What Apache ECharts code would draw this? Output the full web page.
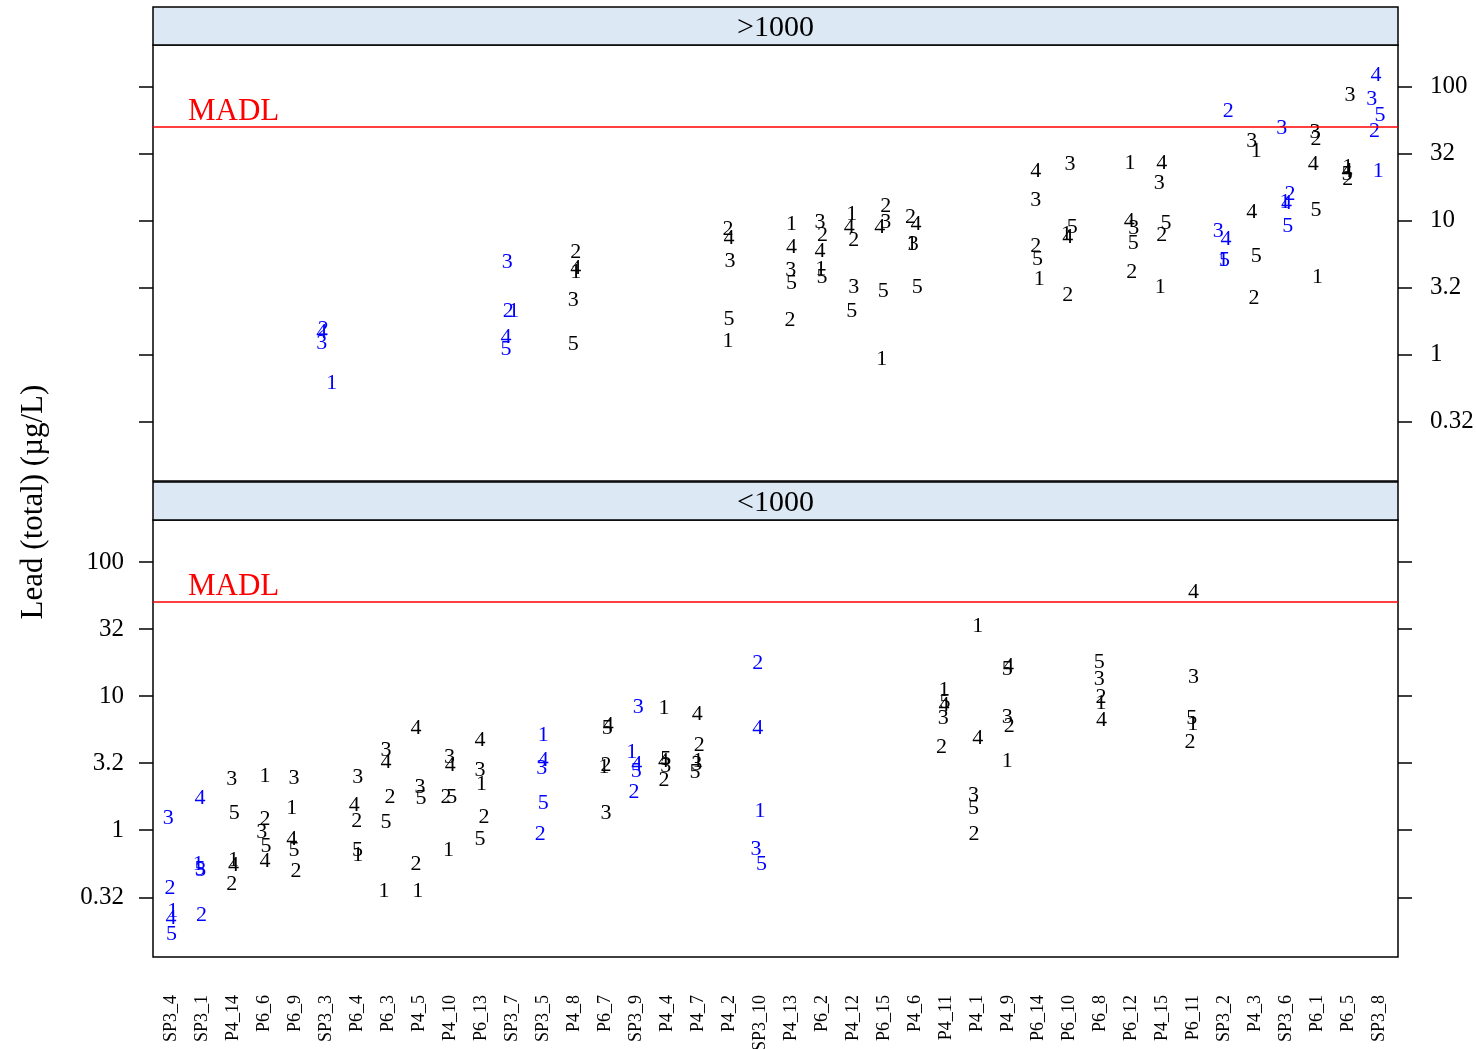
<!DOCTYPE html>
<html>
<head>
<meta charset="utf-8">
<script src="https://cdn.jsdelivr.net/npm/echarts@6/dist/echarts.min.js"></script>
<style>html,body{margin:0;padding:0;background:#fff}#c{width:1476px;height:1049px}</style>
</head>
<body>
<div id="c"></div>
<script>
// ---- data ----
const categories = ["SP3_4","SP3_1","P4_14","P6_6","P6_9","SP3_3","P6_4","P6_3","P4_5","P4_10",
  "P6_13","SP3_7","SP3_5","P4_8","P6_7","SP3_9","P4_4","P4_7","P4_2","SP3_10",
  "P4_13","P6_2","P4_12","P6_15","P4_6","P4_11","P4_1","P4_9","P6_14","P6_10",
  "P6_8","P6_12","P4_15","P6_11","SP3_2","P4_3","SP3_6","P6_1","P6_5","SP3_8"];
const panelOf = ["<1000","<1000","<1000","<1000","<1000",">1000","<1000","<1000","<1000","<1000",
  "<1000",">1000","<1000",">1000","<1000","<1000","<1000","<1000",">1000","<1000",
  ">1000",">1000",">1000",">1000",">1000","<1000","<1000","<1000",">1000",">1000",
  "<1000",">1000",">1000","<1000",">1000",">1000",">1000",">1000",">1000",">1000"];
const panels = [">1000", "<1000"];
// lead (total), µg/L, sample 1..5 for each category
const sample1 = [0.248,0.562,0.595,2.54,1.45,0.61,0.649,0.349,0.349,0.707,
  2.19,2.12,5.10,4.10,2.96,3.83,8.17,3.26,1.26,1.38,
  9.43,4.34,11.2,0.92,6.68,11.0,33.4,3.26,3.66,7.94,
  8.79,27.0,3.16,6.13,5.07,33.0,13.7,3.80,25.0,23.6];
const sample2 = [0.371,0.234,0.399,1.20,0.493,1.55,1.16,1.75,0.562,1.75,
  1.26,2.09,0.942,5.78,3.05,1.93,2.35,4.30,8.65,17.5,
  1.80,7.84,7.16,12.9,10.6,4.18,0.942,6.0,6.49,2.79,
  9.86,4.10,7.84,4.50,65.7,2.63,15.8,40.8,20.5,46.3];
const sample3 = [1.23,0.501,2.39,0.97,2.45,1.22,2.49,3.94,2.10,3.52,
  2.79,4.87,2.88,2.56,1.35,8.30,3.01,3.13,5.01,0.727,
  4.27,9.70,3.20,9.70,6.68,6.87,1.84,7.0,14.3,26.5,
  13.3,8.81,19.0,13.9,8.40,39.0,49.0,45.7,86.1,81.3];
const sample4 = [0.219,1.74,0.553,0.585,0.864,1.47,1.53,3.19,5.79,3.05,
  4.73,1.35,3.32,4.42,6.05,3.08,3.26,7.28,7.41,5.79,
  6.30,5.95,8.89,8.89,9.43,8.53,4.88,16.8,23.4,7.57,
  6.60,9.86,27.0,59.2,7.28,11.5,13.5,26.5,23.6,121.5];
const sample5 = [0.169,0.516,1.33,0.762,0.707,null,0.707,1.15,1.72,1.75,
  0.850,1.10,1.58,1.19,5.79,2.75,3.38,2.72,1.83,0.562,
  3.39,3.76,2.12,2.99,3.16,8.94,1.47,16.0,5.16,8.89,
  18.0,6.75,9.53,6.79,5.07,5.46,9.05,11.9,22.3,61.7];
// horizontal jitter of each label (category units)
const jitter1 = [0.04,-0.14,0,0.02,-0.12,0.17,0.01,-0.14,-0.05,-0.06,0.01,0.05,0,0.05,-0.04,-0.14,-0.10,0,-0.03,0,
  0.02,-0.04,-0.04,-0.07,-0.10,-0.06,0.03,-0.02,0.02,-0.10,0.01,-0.05,-0.08,-0.03,-0.04,0.02,-0.05,0,-0.02,-0.04];
const jitter2 = [-0.05,-0.03,-0.06,0.02,0.02,-0.10,-0.02,0.05,-0.11,-0.14,0.09,-0.13,-0.10,0.05,0.03,-0.07,-0.10,0.04,-0.03,-0.07,
  -0.03,0.02,0.03,0.06,-0.14,-0.14,-0.09,0.05,-0.10,-0.06,0.01,0,-0.03,-0.12,0.12,-0.05,0.11,-0.05,-0.02,-0.16];
const jitter3 = [-0.11,-0.06,-0.06,-0.09,-0.05,-0.15,0.01,-0.08,0.02,-0.03,-0.04,-0.16,-0.05,-0.03,0.03,0.07,-0.04,-0.04,0.03,-0.13,
  -0.01,-0.06,0.03,0.06,-0.05,-0.08,-0.11,-0.02,-0.10,0.01,-0.05,0.07,-0.11,0,-0.2,-0.12,-0.15,-0.08,0.05,-0.25];
const jitter4 = [-0.02,-0.08,0,0.02,-0.12,-0.15,-0.10,-0.08,-0.11,0,-0.04,-0.2,0,0.05,0.10,0.02,-0.12,-0.03,0,-0.07,
  0.02,-0.06,-0.12,-0.13,0.04,-0.06,0.03,0.02,-0.10,-0.06,0.03,-0.08,-0.03,0,0.05,-0.12,0,-0.14,-0.05,-0.11];
const jitter5 = [0,-0.08,0.02,0.05,-0.05,0,0,-0.08,0.05,0.05,-0.04,-0.2,0,-0.03,0.07,0,-0.04,-0.10,0,0.05,
  0.02,0,-0.04,-0.02,0.08,-0.03,-0.11,-0.02,-0.04,0.08,-0.05,0.05,0.11,-0.06,0,0.02,0.04,-0.05,-0.05,0.02];
const MADL = 50;
const tickExponents = [-0.5, 0, 0.5, 1, 1.5, 2];
const tickLabels = ["0.32", "1", "3.2", "10", "32", "100"];
const yTitle = "Lead (total) (\u00b5g/L)";

// ---- build ----
const FONT = '"Liberation Serif","Times New Roman",serif';
const samples = [sample1, sample2, sample3, sample4, sample5];
const jitters = [jitter1, jitter2, jitter3, jitter4, jitter5];
const colorOf = name => name.indexOf("SP3") === 0 ? "#0000FF" : "#000000";
const pts = [[], []];
categories.forEach((c, i) => {
  const g = panels.indexOf(panelOf[i]);
  samples.forEach((arr, s) => {
    const v = arr[i];
    if (v == null) return;
    pts[g].push([i + jitters[s][i], Math.log10(v), s + 1, i]);
  });
});

const YMIN = -0.945, YMAX = 2.313;
const GL = 153, GW = 1245;
const tickFmt = v => {
  const k = tickExponents.findIndex(t => Math.abs(t - v) < 1e-6);
  return k >= 0 ? tickLabels[k] : "";
};
function yAx(grid, pos, showLabel, margin) {
  return {
    gridIndex: grid, type: "value", position: pos, min: YMIN, max: YMAX,
    axisLine: { show: false, onZero: false }, splitLine: { show: false },
    axisTick: { show: true, inside: false, length: 14, customValues: tickExponents,
      lineStyle: { color: "#000", width: 1.5 } },
    axisLabel: { show: showLabel, customValues: tickExponents, formatter: tickFmt,
      margin: margin, fontSize: 25, fontFamily: FONT, color: "#000" }
  };
}
function textSeries(g, xi, yi) {
  return {
    type: "custom", xAxisIndex: xi, yAxisIndex: yi, silent: true, clip: false,
    data: pts[g],
    renderItem: (params, api) => {
      const p = api.coord([api.value(0), api.value(1)]);
      const ci = api.value(3);
      return {
        type: "text", x: p[0], y: p[1],
        style: { text: String(api.value(2)), fill: colorOf(categories[ci]),
          font: '22px "Liberation Serif"', align: "center", verticalAlign: "middle" }
      };
    }
  };
}
function madlSeries(xi, yi) {
  return {
    type: "line", xAxisIndex: xi, yAxisIndex: yi, data: [], silent: true,
    markLine: {
      silent: true, symbol: ["none", "none"], animation: false,
      lineStyle: { color: "#FF0000", width: 1.5, type: "solid" },
      label: { show: true, position: "insideStartTop", formatter: "MADL", distance: [35, 0],
        color: "#FF0000", fontSize: 31, fontFamily: FONT },
      data: [{ yAxis: Math.log10(MADL) }]
    }
  };
}

const option = {
  animation: false,
  backgroundColor: "#fff",
  grid: [
    { left: GL, top: 45, width: GW, height: 436, show: true, borderColor: "#000", borderWidth: 1.5,
      outerBoundsMode: "none", containLabel: false },
    { left: GL, top: 520, width: GW, height: 437, show: true, borderColor: "#000", borderWidth: 1.5,
      outerBoundsMode: "none", containLabel: false }
  ],
  xAxis: [
    { gridIndex: 0, type: "value", min: -0.6, max: 39.6, axisLine: { show: false, onZero: false },
      axisTick: { show: false }, axisLabel: { show: false }, splitLine: { show: false } },
    { gridIndex: 1, type: "value", min: -0.6, max: 39.6, axisLine: { show: false, onZero: false },
      axisTick: { show: false }, splitLine: { show: false },
      axisLabel: { show: true, customValues: categories.map((c, i) => i),
        formatter: v => categories[Math.round(v)] || "", rotate: 90, margin: 38,
        fontSize: 18, fontFamily: FONT, color: "#000" } }
  ],
  yAxis: [
    yAx(0, "left", false, 30),
    yAx(0, "right", true, 32),
    yAx(1, "left", true, 29),
    yAx(1, "right", false, 32)
  ],
  series: [
    textSeries(0, 0, 1),
    textSeries(1, 1, 2),
    madlSeries(0, 1),
    madlSeries(1, 2)
  ],
  graphic: [
    { type: "rect", shape: { x: GL, y: 7, width: GW, height: 38 },
      style: { fill: "#DCE8F4", stroke: "#000", lineWidth: 1.5 } },
    { type: "text", x: GL + GW / 2, y: 28,
      style: { text: panels[0], font: '30px "Liberation Serif"', fill: "#000", align: "center", verticalAlign: "middle" } },
    { type: "rect", shape: { x: GL, y: 482, width: GW, height: 38 },
      style: { fill: "#DCE8F4", stroke: "#000", lineWidth: 1.5 } },
    { type: "text", x: GL + GW / 2, y: 503,
      style: { text: panels[1], font: '30px "Liberation Serif"', fill: "#000", align: "center", verticalAlign: "middle" } },
    { type: "text", x: 34, y: 502, rotation: Math.PI / 2,
      style: { text: yTitle, font: '31px "Liberation Serif"', fill: "#000", align: "center", verticalAlign: "middle" } }
  ]
};
const chart = echarts.init(document.getElementById("c"), null, { renderer: "canvas" });
chart.setOption(option);
</script>
</body>
</html>
